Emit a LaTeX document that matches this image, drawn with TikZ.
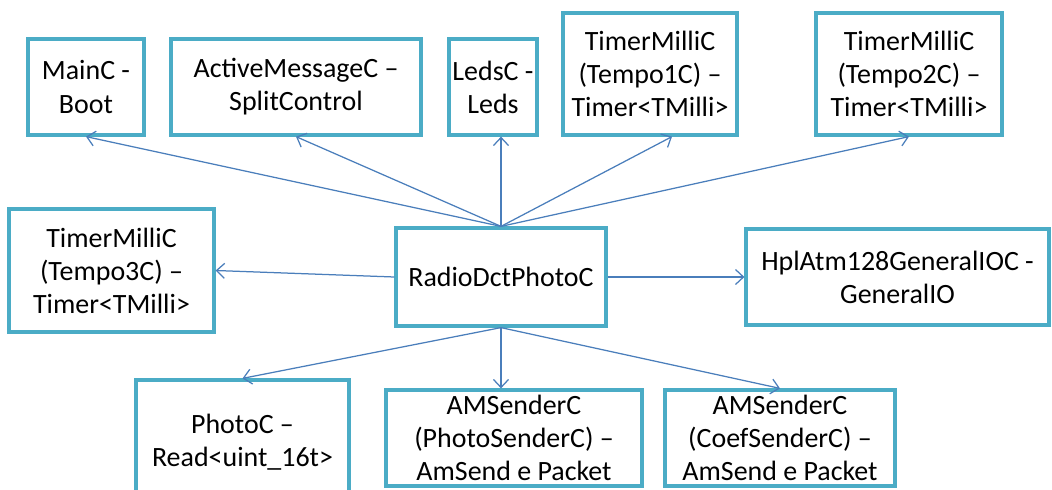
\documentclass[tikz,border=0pt]{standalone}
\usepackage{fontspec}
\setmainfont{Carlito}
\usetikzlibrary{arrows.meta}

\definecolor{boxline}{HTML}{4BACC6}
\definecolor{linkblue}{HTML}{4A7EBB}

\begin{document}
\begin{tikzpicture}[x=0.02cm, y=-0.02cm,
    comp/.style={rectangle, draw=boxline, line width=0.065cm, align=center, inner sep=0pt, font=\fontsize{15.9}{18.8}\selectfont},
    arrow/.style={-{Straight Barb[length=0.16cm, width=0.3cm]}, draw=linkblue, line width=0.025cm}
]
\useasboundingbox (0,0) rectangle (1052,490);

% Used components (top)
\node[comp, minimum width=2.32cm, minimum height=1.92cm] (mainc) at (86,87) {MainC -\\Boot};
\node[comp, minimum width=5.0cm, minimum height=1.92cm] (amc) at (296,87) {ActiveMessageC –\\SplitControl};
\node[comp, minimum width=1.76cm, minimum height=1.92cm] (ledsc) at (493,87) {LedsC -\\Leds};
\node[comp, minimum width=3.48cm, minimum height=2.44cm] (tempoa) at (650,74) {TimerMilliC\\(Tempo1C) –\\Timer<TMilli>};
\node[comp, minimum width=3.72cm, minimum height=2.44cm] (tempob) at (909,74) {TimerMilliC\\(Tempo2C) –\\Timer<TMilli>};

% Middle row
\node[comp, minimum width=4.1cm, minimum height=2.46cm] (tempoc) at (111.5,270.5) {TimerMilliC\\(Tempo3C) –\\Timer<TMilli>};
\node[comp, minimum width=4.2cm, minimum height=1.96cm] (radio) at (501,277) {RadioDctPhotoC};
\node[comp, minimum width=6.06cm, minimum height=1.92cm] (hpl) at (897.5,277) {HplAtm128GeneralIOC -\\GeneralIO};

% Bottom row
\node[comp, minimum width=4.26cm, minimum height=2.48cm] (photoc) at (242.5,442) {PhotoC –\\Read<uint\_16t>};
\node[comp, minimum width=5.12cm, minimum height=1.92cm] (sendphoto) at (514,438) {AMSenderC\\(PhotoSenderC) –\\AmSend e Packet};
\node[comp, minimum width=4.6cm, minimum height=1.92cm] (sendcoef) at (780,438) {AMSenderC\\(CoefSenderC) –\\AmSend e Packet};

% Arrows
\draw[arrow] (radio.north) -- (mainc.south);
\draw[arrow] (radio.north) -- (amc.south);
\draw[arrow] (radio.north) -- (radio.north |- ledsc.south);
\draw[arrow] (radio.north) -- ([xshift=0.44cm]tempoa.south);
\draw[arrow] (radio.north) -- (tempob.south);
\draw[arrow] (radio.west) -- (tempoc.east);
\draw[arrow] (radio.east) -- (hpl.west);
\draw[arrow] (radio.south) -- (photoc.north);
\draw[arrow] (radio.south) -- (radio.south |- sendphoto.north);
\draw[arrow] (radio.south) -- (sendcoef.north);

\end{tikzpicture}
\end{document}
